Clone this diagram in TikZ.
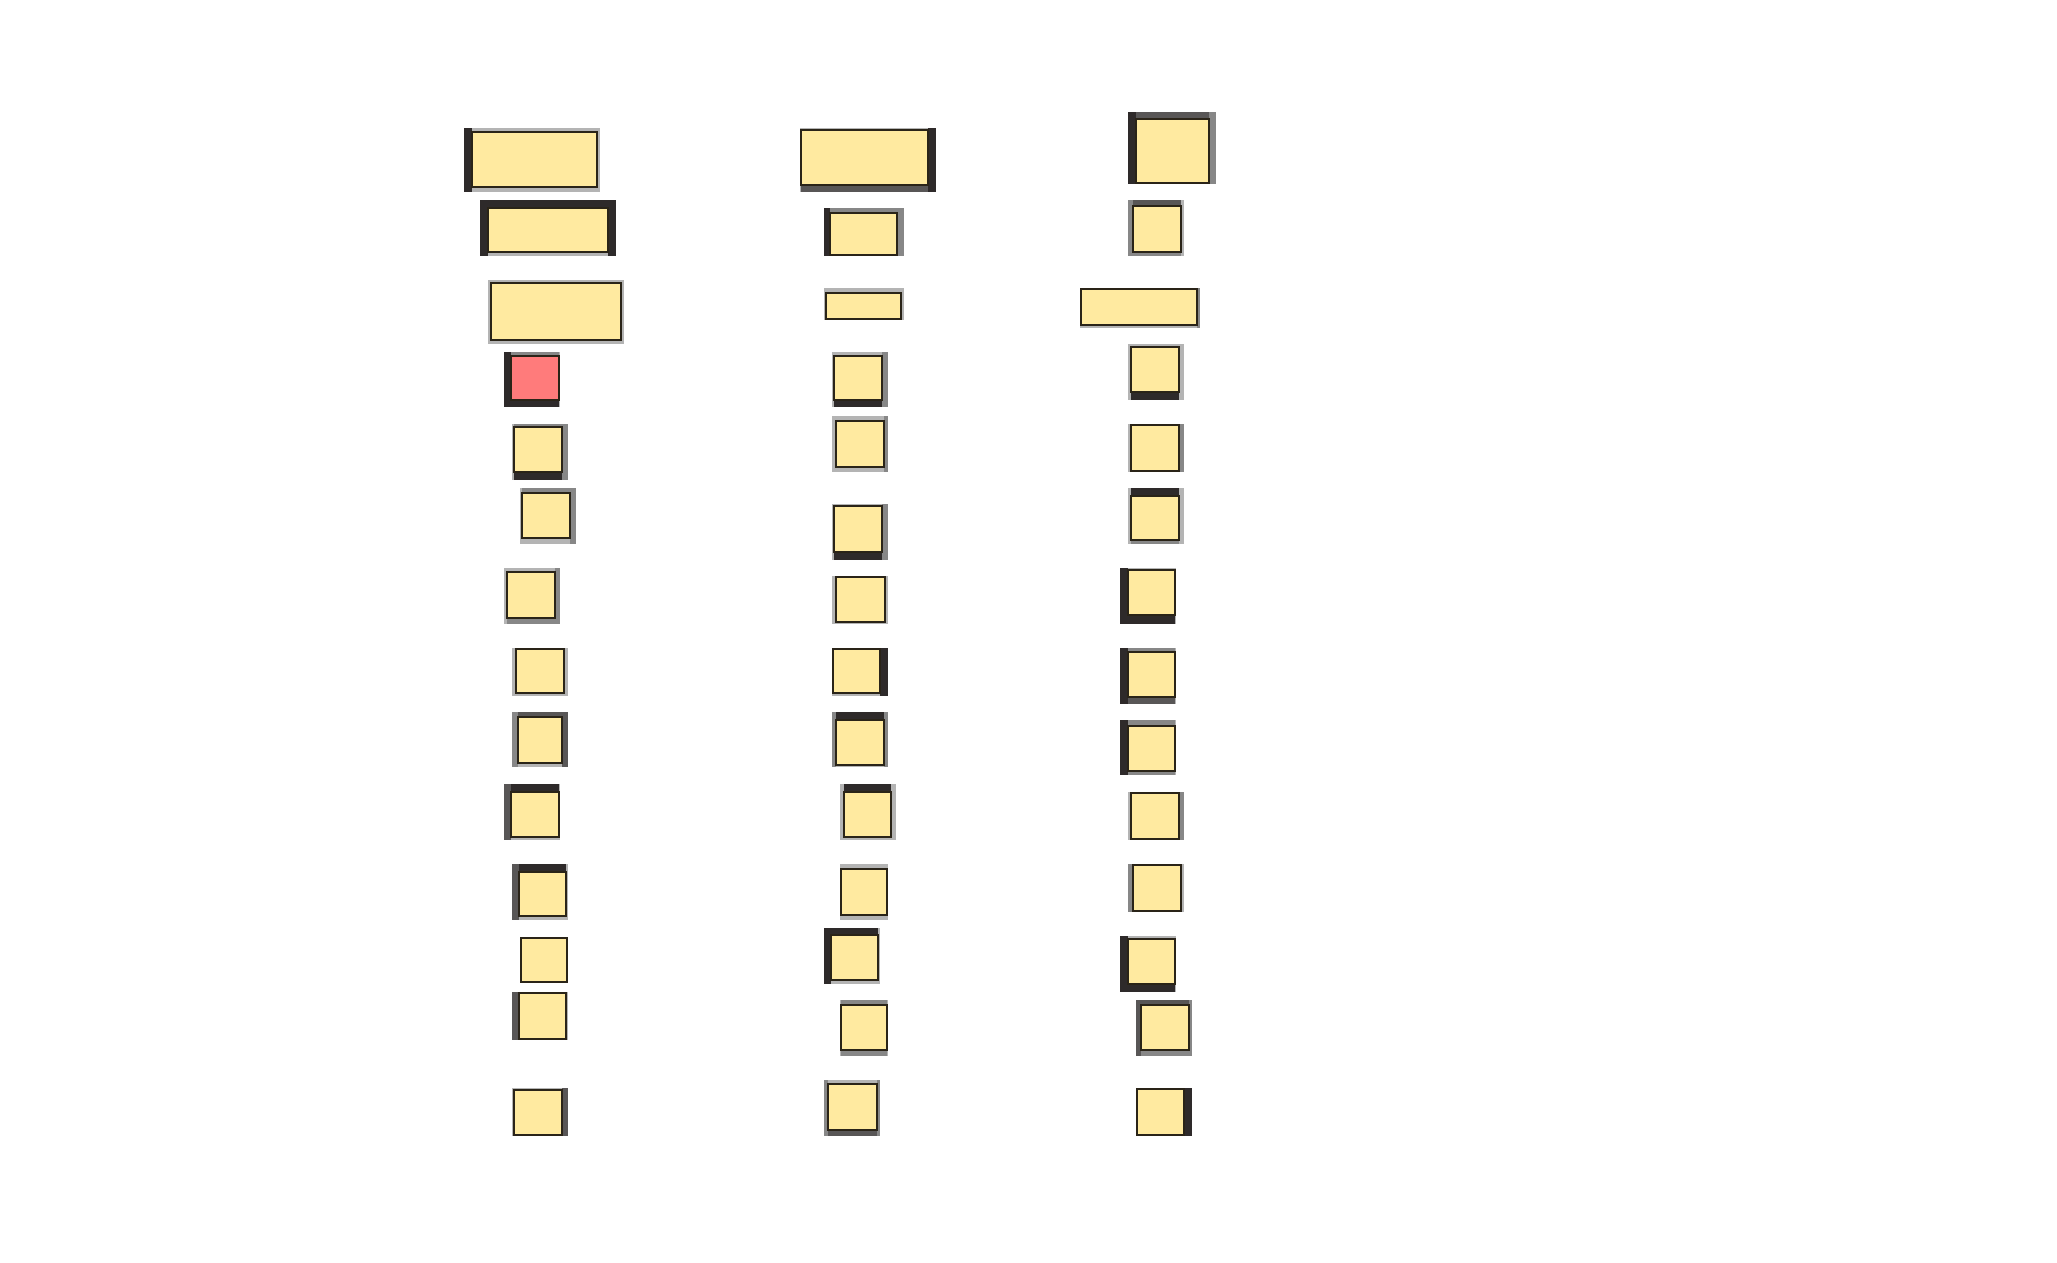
\documentclass[tikz,border=0pt]{standalone}
\usepackage{xcolor}
\usepackage{tikz}
\usetikzlibrary{fit}
\definecolor{cellfill}{RGB}{255,234,160}
\definecolor{cellred}{RGB}{255,123,123}
\definecolor{celledge}{RGB}{42,36,24}
\definecolor{frmD}{RGB}{46,42,42}
\definecolor{frmM}{RGB}{88,86,86}
\definecolor{frmG}{RGB}{135,135,135}
\definecolor{frmL}{RGB}{180,180,180}

\begin{document}
\begin{tikzpicture}[x=0.01cm, y=-0.01cm,
      cell/.style={draw=celledge, line width=0.5pt, inner sep=0pt},
      edgebar/.style={draw=none}]
    \useasboundingbox (0,0) rectangle (2057,1262);
    % name / outer box / side widths (l,t,r,b) / side shades / fill
    \foreach \n/\xa/\ya/\xb/\yb/\wl/\wt/\wr/\wb/\cl/\ct/\cr/\cb/\fc in {
        a1/464/128/600/192/8/4/3/5/D/L/L/L/cellfill,
        a2/480/200/616/256/8/8/8/4/D/D/D/L/cellfill,
        a3/488/280/624/344/3/3/3/4/L/L/L/L/cellfill,
        a4/504/352/560/407/7/4/1/7/D/G/L/D/cellred,
        a5/512/424/568/480/2/3/6/8/L/G/G/D/cellfill,
        a6/520/488/576/544/2/5/6/6/L/G/G/L/cellfill,
        a7/504/568/560/624/3/4/5/6/L/L/G/G/cellfill,
        a8/512/648/568/696/4/1/4/3/L/L/L/L/cellfill,
        a9/512/712/568/767/6/5/6/4/G/M/M/L/cellfill,
        a10/504/784/560/840/7/8/1/3/M/D/L/L/cellfill,
        a11/512/864/568/920/7/8/2/4/M/D/L/L/cellfill,
        a12/520/937/568/983/1/1/1/1/L/L/L/L/cellfill,
        a13/512/992/568/1040/7/1/2/1/M/L/L/L/cellfill,
        a14/512/1088/568/1136/2/2/6/1/L/L/M/L/cellfill,
        b1/800/128/936/192/1/2/8/7/L/L/D/M/cellfill,
        b2/824/208/904/256/6/5/7/1/D/G/G/L/cellfill,
        b3/824/288/904/320/2/5/3/1/L/L/L/L/cellfill,
        b4/832/352/888/407/2/4/6/7/L/L/G/D/cellfill,
        b5/832/416/888/472/4/5/4/5/L/L/G/L/cellfill,
        b6/832/504/888/560/2/2/6/8/L/L/G/D/cellfill,
        b7/832/576/888/624/4/1/3/2/L/L/L/L/cellfill,
        b8/832/648/888/696/1/1/8/3/L/L/D/L/cellfill,
        b9/832/712/888/767/4/8/4/2/G/D/G/L/cellfill,
        b10/840/784/896/840/4/8/5/3/L/D/L/L/cellfill,
        b11/840/864/888/920/1/5/1/5/L/L/L/L/cellfill,
        b12/824/928/880/984/7/7/2/4/D/D/L/L/cellfill,
        b13/840/1000/888/1056/1/5/1/6/L/G/L/G/cellfill,
        b14/824/1080/880/1136/4/4/3/6/G/L/G/M/cellfill,
        c1/1128/112/1216/184/8/7/7/1/D/M/G/L/cellfill,
        c2/1128/200/1184/256/5/6/3/4/G/M/L/G/cellfill,
        c3/1080/288/1200/328/1/1/3/3/L/L/G/L/cellfill,
        c4/1128/344/1184/400/3/3/5/8/L/L/L/D/cellfill,
        c5/1128/424/1184/472/3/1/5/1/L/L/G/L/cellfill,
        c6/1128/488/1184/544/3/8/5/4/L/D/L/G/cellfill,
        c7/1120/568/1176/624/8/2/1/9/D/L/L/D/cellfill,
        c8/1120/648/1176/704/8/4/1/7/D/G/L/M/cellfill,
        c9/1120/720/1176/775/8/6/1/4/D/G/L/G/cellfill,
        c10/1128/792/1184/840/3/1/5/1/L/L/G/L/cellfill,
        c11/1128/864/1184/912/5/1/3/1/G/L/L/L/cellfill,
        c12/1120/936/1176/992/8/3/1/8/D/L/L/D/cellfill,
        c13/1136/1000/1192/1056/5/5/3/6/M/M/G/G/cellfill,
        c14/1136/1088/1192/1136/1/1/8/1/L/L/D/L/cellfill} {
      \fill[edgebar, frm\ct] (\xa,\ya) rectangle (\xb,{\ya+\wt});
      \fill[edgebar, frm\cb] (\xa,{\yb-\wb}) rectangle (\xb,\yb);
      \fill[edgebar, frm\cl] (\xa,\ya) rectangle ({\xa+\wl},\yb);
      \fill[edgebar, frm\cr] ({\xb-\wr},\ya) rectangle (\xb,\yb);
      \node[cell, fill=\fc,
            fit={({\xa+\wl},{\ya+\wt}) ({\xb-\wr},{\yb-\wb})}] (\n) {};
    }
\end{tikzpicture}
\end{document}
